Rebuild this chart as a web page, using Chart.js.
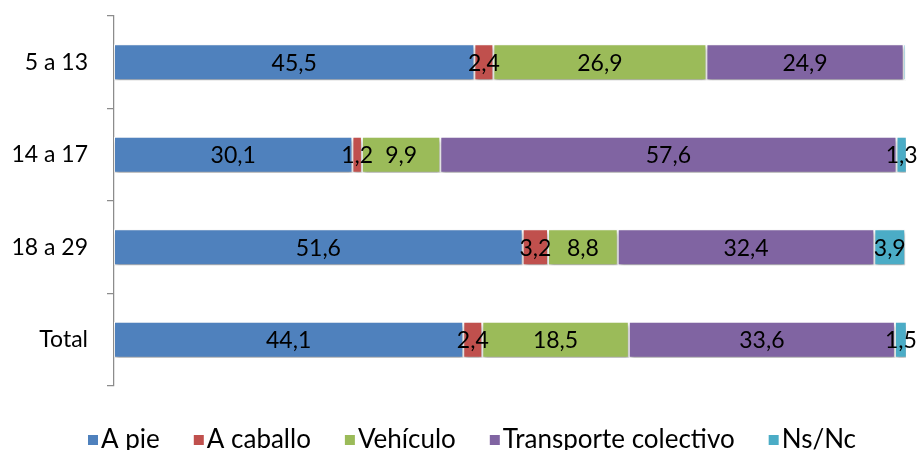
<!DOCTYPE html>
<html>
<head>
<meta charset="utf-8">
<script src="https://cdn.jsdelivr.net/npm/chart.js@4"></script>
<style>
html,body{margin:0;padding:0;background:#fff;}
#wrap{width:921px;height:450px;position:relative;}
</style>
</head>
<body>
<div id="wrap"><canvas id="c"></canvas></div>
<script>
const categories = ["5 a 13", "14 a 17", "18 a 29", "Total"];
const seriesNames = ["A pie", "A caballo", "Vehículo", "Transporte colectivo", "Ns/Nc"];
const aPie = [45.5, 30.1, 51.6, 44.1];
const aCaballo = [2.4, 1.2, 3.2, 2.4];
const vehiculo = [26.9, 9.9, 8.8, 18.5];
const transporte = [24.9, 57.6, 32.4, 33.6];
const nsnc = [0.3, 1.3, 3.9, 1.5];
const colors = ["#4F81BD", "#C0504D", "#9BBB59", "#8064A2", "#4BACC6"];

const FONT = "Lato, 'Open Sans', sans-serif";
const allData = [aPie, aCaballo, vehiculo, transporte, nsnc];

const datasets = allData.map((d, i) => ({
  label: seriesNames[i],
  data: d,
  backgroundColor: colors[i],
  borderColor: "#ffffff",
  borderWidth: 1,
  borderSkipped: false,
  categoryPercentage: 1,
  barPercentage: 0.39
}));

const shadowPlugin = {
  id: "shadow",
  beforeDatasetsDraw(chart) {
    const ctx = chart.ctx;
    ctx.save();
    ctx.shadowColor = "rgba(0,0,0,0.35)";
    ctx.shadowBlur = 4;
    ctx.shadowOffsetX = 1;
    ctx.shadowOffsetY = 3;
  },
  afterDatasetsDraw(chart) {
    chart.ctx.restore();
  }
};

const labelPlugin = {
  id: "labels",
  afterDraw(chart) {
    const ctx = chart.ctx;
    ctx.save();
    ctx.font = "23px " + FONT;
    ctx.fillStyle = "#000";
    ctx.textAlign = "center";
    ctx.textBaseline = "middle";
    chart.data.datasets.forEach((ds, di) => {
      const meta = chart.getDatasetMeta(di);
      meta.data.forEach((bar, i) => {
        const v = ds.data[i];
        if (v < 1) return;
        const cx = (bar.x + bar.base) / 2;
        ctx.fillText(v.toFixed(1).replace(".", ","), cx, bar.y + 1);
      });
    });
    // legend
    ctx.font = "26px " + FONT;
    ctx.textAlign = "left";
    ctx.textBaseline = "alphabetic";
    const box = 10, gap = 3, spacing = 34;
    const widths = seriesNames.map(n => ctx.measureText(n).width);
    const total = widths.reduce((a, w) => a + box + gap + w, 0) + spacing * (seriesNames.length - 1);
    let x = 472 - total / 2;
    const baseY = 448;
    seriesNames.forEach((n, i) => {
      ctx.fillStyle = colors[i];
      ctx.fillRect(x, baseY - 13, box, box);
      x += box + gap;
      ctx.fillStyle = "#000";
      ctx.fillText(n, x, baseY);
      x += widths[i] + spacing;
    });
    ctx.restore();
  }
};

new Chart(document.getElementById("c"), {
  type: "bar",
  data: { labels: categories, datasets },
  options: {
    indexAxis: "y",
    responsive: true,
    maintainAspectRatio: false,
    animation: false,
    layout: { padding: { top: 16, bottom: 64, left: 0, right: 15 } },
    plugins: { legend: { display: false }, tooltip: { enabled: false } },
    scales: {
      x: {
        stacked: true, min: 0, max: 100, display: false
      },
      y: {
        stacked: true,
        offset: true,
        afterFit(scale) { scale.width = 114; scale.paddingTop = 0; scale.paddingBottom = 0; },
        grid: {
          offset: true,
          drawOnChartArea: false,
          drawTicks: true,
          tickLength: 7,
          color: "#8c8c8c",
          lineWidth: 1.25
        },
        border: { display: true, color: "#8c8c8c", width: 1.25 },
        ticks: { color: "#000", font: { size: 23, family: FONT }, padding: 19 }
      }
    }
  },
  plugins: [shadowPlugin, labelPlugin]
});
</script>
</body>
</html>
